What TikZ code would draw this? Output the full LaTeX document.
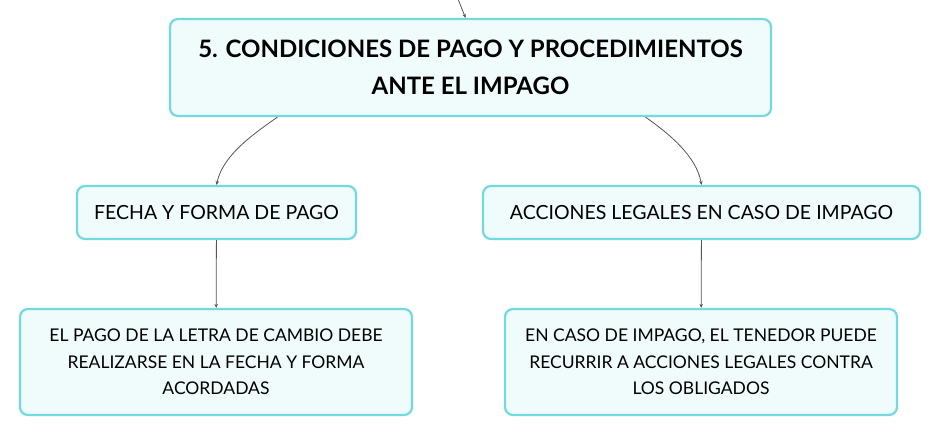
\documentclass[tikz,border=0pt]{standalone}
\usepackage{fontspec}
\setmainfont{Lato}
\usetikzlibrary{arrows.meta,calc}
\definecolor{boxline}{HTML}{72DADF}
\definecolor{boxfill}{HTML}{F0FBFC}
\definecolor{linkcol}{HTML}{555555}
\begin{document}
\begin{tikzpicture}[x=1pt,y=-1pt,->,>={Stealth[length=4pt,width=3.5pt]},draw=linkcol]
\tikzstyle{topic}=[draw=boxline,line width=2.2pt,fill=boxfill,rounded corners=8pt,align=center,inner sep=0pt]
\tikzstyle{main topic}=[topic,font=\fontsize{24}{37}\selectfont\bfseries,minimum width=601pt,minimum height=97pt]
\tikzstyle{sub topic}=[topic,font=\fontsize{19.5}{27}\selectfont,minimum height=53pt]
\tikzstyle{leaf topic}=[topic,font=\fontsize{17.5}{26.5}\selectfont,minimum width=392pt,minimum height=106pt]
\tikzstyle{link}=[line width=0.8pt,draw=linkcol]

% Fix the page size
\useasboundingbox (0,0) rectangle (942,436);

% Root topic
\node[main topic] (root) at (470.5,67.5) {5. CONDICIONES DE PAGO Y PROCEDIMIENTOS\\ANTE EL IMPAGO};
\coordinate (parent) at (458,-1);

% Second level
\node[sub topic,minimum width=279pt] (fecha) at (216.5,212.5) {FECHA Y FORMA DE PAGO};
\node[sub topic,minimum width=437pt] (acciones) at (701.5,212.5) {ACCIONES LEGALES EN CASO DE IMPAGO};

% Third level
\node[leaf topic] (pago) at (216,362) {EL PAGO DE LA LETRA DE CAMBIO DEBE\\REALIZARSE EN LA FECHA Y FORMA\\ACORDADAS};
\node[leaf topic] (tenedor) at (701,362) {EN CASO DE IMPAGO, EL TENEDOR PUEDE\\RECURRIR A ACCIONES LEGALES CONTRA\\LOS OBLIGADOS};

% Connections
\draw[link] (parent) -- ($(root.north)+(-5,0)$);
\draw[link] ($(root.south west)!0.18!(root.south east)$) to[out=-145,in=78,looseness=0.85] (fecha.north);
\draw[link] ($(root.south west)!0.79!(root.south east)$) to[out=-35,in=100,looseness=0.85] (acciones.north);
\foreach \source/\dest in {fecha/pago,acciones/tenedor}
  \draw[link] (\source) -- (\dest);

\end{tikzpicture}
\end{document}
